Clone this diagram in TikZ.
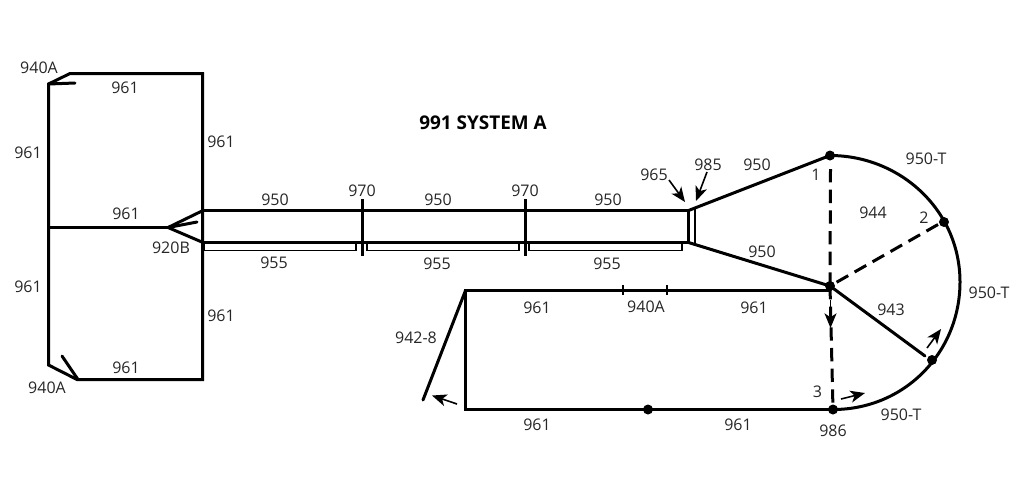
\documentclass[tikz,border=0pt]{standalone}
\usepackage{fontspec}
\setmainfont{Open Sans}
\usetikzlibrary{arrows.meta}
\tikzset{
  wire/.style={line width=2.25pt,line cap=round,line join=miter},
  thin wire/.style={line width=1.1pt},
  dashwire/.style={line width=2.25pt,dash pattern=on 10pt off 5.5pt},
  tick/.style={line width=0.9pt},
  pointer/.style={line width=1.2pt,-{Stealth[length=11pt,width=9pt,inset=3pt]}},
  lbl/.style={inner sep=0pt,font=\fontsize{12}{14}\selectfont,text=black!85},
  dot/.style={circle,fill=black,inner sep=0pt,minimum size=7.5pt},
}
\begin{document}
\begin{tikzpicture}[x=0.75pt,y=-0.75pt]
\useasboundingbox (0,0) rectangle (1024,487);
% left frame
\coordinate (tl1) at (48.5,84); \coordinate (tl2) at (70,73.5);
\coordinate (tr) at (202.5,73.5); \coordinate (br) at (202.5,379.5);
\coordinate (bl2) at (77,379.5); \coordinate (bl1) at (48.5,365);
\coordinate (ml) at (48.5,227.5); \coordinate (tip) at (168,227.5);
\coordinate (tk1) at (75,83); \coordinate (tk2a) at (62,356); \coordinate (tk2b) at (78,379.5);
\coordinate (tipin) at (197,222);
\coordinate (st) at (203,210.5); \coordinate (sb) at (203,242.5);
\coordinate (et) at (688.5,210.5); \coordinate (eb) at (688.5,242.5);
\draw[wire,line join=miter] (tl1) -- (tl2) -- (tr) -- (br) -- (bl2) -- (bl1) -- cycle;
\draw[wire] (tl1) -- (tk1);
\draw[wire] (tk2a) -- (tk2b);
\draw[wire] (ml) -- (tip);
\draw[wire] (st) -- (tip) -- (sb);
\draw[wire] (tip) -- (tipin);
% tube
\draw[wire] (st) -- (et) -- (eb) -- (sb);
\coordinate (e2t) at (694.5,207); \coordinate (e2b) at (694.5,244.5);
\draw[line width=1.5pt] (e2t) -- (e2b);
% brackets
\coordinate (b1a) at (204,243); \coordinate (b1b) at (204,250.5); \coordinate (b1c) at (356,250.5); \coordinate (b1d) at (356,243);
\coordinate (b2a) at (367,243); \coordinate (b2b) at (367,250.5); \coordinate (b2c) at (519,250.5); \coordinate (b2d) at (519,243);
\coordinate (b3a) at (529,243); \coordinate (b3b) at (529,250.5); \coordinate (b3c) at (682,250.5); \coordinate (b3d) at (682,243);
\draw[thin wire] (b1a) -- (b1b) -- (b1c) -- (b1d);
\draw[thin wire] (b2a) -- (b2b) -- (b2c) -- (b2d);
\draw[thin wire] (b3a) -- (b3b) -- (b3c) -- (b3d);
% couplers 970
\coordinate (c1a) at (362.5,199); \coordinate (c1b) at (362.5,256);
\coordinate (c2a) at (525.5,199); \coordinate (c2b) at (525.5,256);
\draw[wire,line cap=butt] (c1a) -- (c1b);
\draw[wire,line cap=butt] (c2a) -- (c2b);
% dots
\node[dot] (d1) at (830,155.5) {};
\node[dot] (d2) at (944,222) {};
\node[dot] (d4) at (932,360) {};
\node[dot] (d3) at (833,409.5) {};
\node[dot] (dc) at (830,286) {};
\node[dot] (dm) at (648,409.5) {};
% horn and loop
\draw[wire] (et) -- (d1.center);
\draw[wire] (eb) -- (dc.center);
\draw[wire] (d1.center) .. controls (900,155.5) and (960,210) .. (960,282) .. controls (960,352) and (905,409.5) .. (d3.center);
\coordinate (d1s) at (830.5,169);
\coordinate (d2s) at (938,224.5);
\draw[dashwire] (d1s) -- (dc.center);
\draw[dashwire] (d2s) -- (dc.center);
\draw[dashwire] (dc.center) -- (d3.center);
\coordinate (e943) at (925,356);
\draw[wire] (dc.center) -- (e943);
% lower rectangle
\coordinate (rr) at (830,290.5);
\coordinate (rt) at (465.5,290.5); \coordinate (rb) at (465.5,409.5);
\coordinate (a8) at (423,400);
\draw[wire,line join=miter] (rr) -- (rt) -- (rb) -- (dm.center) -- (d3.center);
\draw[wire] (rt) -- (a8);
\coordinate (t1a) at (623,285); \coordinate (t1b) at (623,295);
\coordinate (t2a) at (667,285); \coordinate (t2b) at (667,295);
\draw[tick] (t1a) -- (t1b);
\draw[tick] (t2a) -- (t2b);
% pointers
\coordinate (p1a) at (830.5,300); \coordinate (p1b) at (830.5,328);
\draw[pointer] (p1a) -- (p1b);
\coordinate (p2a) at (927,348); \coordinate (p2b) at (941,329);
\draw[pointer] (p2a) -- (p2b);
\coordinate (p3a) at (841,399); \coordinate (p3b) at (865,393);
\draw[pointer] (p3a) -- (p3b);
\coordinate (p4a) at (457,404); \coordinate (p4b) at (432,395.5);
\draw[pointer] (p4a) -- (p4b);
\coordinate (p5a) at (669,180); \coordinate (p5b) at (685,202);
\draw[pointer] (p5a) -- (p5b);
\coordinate (p6a) at (707,172); \coordinate (p6b) at (696,201);
\draw[pointer] (p6a) -- (p6b);
% labels
\node[inner sep=0pt,font=\fontsize{14.2}{17}\selectfont\bfseries] (title) at (483,122.5) {991 SYSTEM A};
\node[lbl] (l01) at (39,67.5) {940A};
\node[lbl] (l02) at (125,87.5) {961};
\node[lbl] (l03) at (28,152.5) {961};
\node[lbl] (l04) at (221,141.5) {961};
\node[lbl] (l05) at (126,213.5) {961};
\node[lbl] (l06) at (171,247.5) {920B};
\node[lbl] (l07) at (28,286.5) {961};
\node[lbl] (l08) at (221,315.5) {961};
\node[lbl] (l09) at (126,367.5) {961};
\node[lbl] (l10) at (47,387.5) {940A};
\node[lbl] (l11) at (275,199.5) {950};
\node[lbl] (l12) at (362,190.5) {970};
\node[lbl] (l13) at (438,199.5) {950};
\node[lbl] (l14) at (525,190.5) {970};
\node[lbl] (l15) at (608,199.5) {950};
\node[lbl] (l16) at (654,174.5) {965};
\node[lbl] (l17) at (708,164.5) {985};
\node[lbl] (l18) at (757,164.5) {950};
\node[lbl] (l19) at (926,159) {950-T};
\node[lbl] (l20) at (816,174.5) {1};
\node[lbl] (l21) at (873,212.5) {944};
\node[lbl] (l22) at (924,217.5) {2};
\node[lbl] (l23) at (762,251.5) {950};
\node[lbl] (l24) at (274,262.5) {955};
\node[lbl] (l25) at (437,263.5) {955};
\node[lbl] (l26) at (607,263.5) {955};
\node[lbl] (l27) at (537,307.5) {961};
\node[lbl] (l28) at (646,306.5) {940A};
\node[lbl] (l29) at (754,307.5) {961};
\node[lbl] (l30) at (891,309.5) {943};
\node[lbl] (l31) at (989,292.5) {950-T};
\node[lbl] (l32) at (416,337.5) {942-8};
\node[lbl] (l33) at (817.5,391.5) {3};
\node[lbl] (l34) at (901,414.5) {950-T};
\node[lbl] (l35) at (537,424.5) {961};
\node[lbl] (l36) at (738,424.5) {961};
\node[lbl] (l37) at (833,430.5) {986};
\end{tikzpicture}
\end{document}
